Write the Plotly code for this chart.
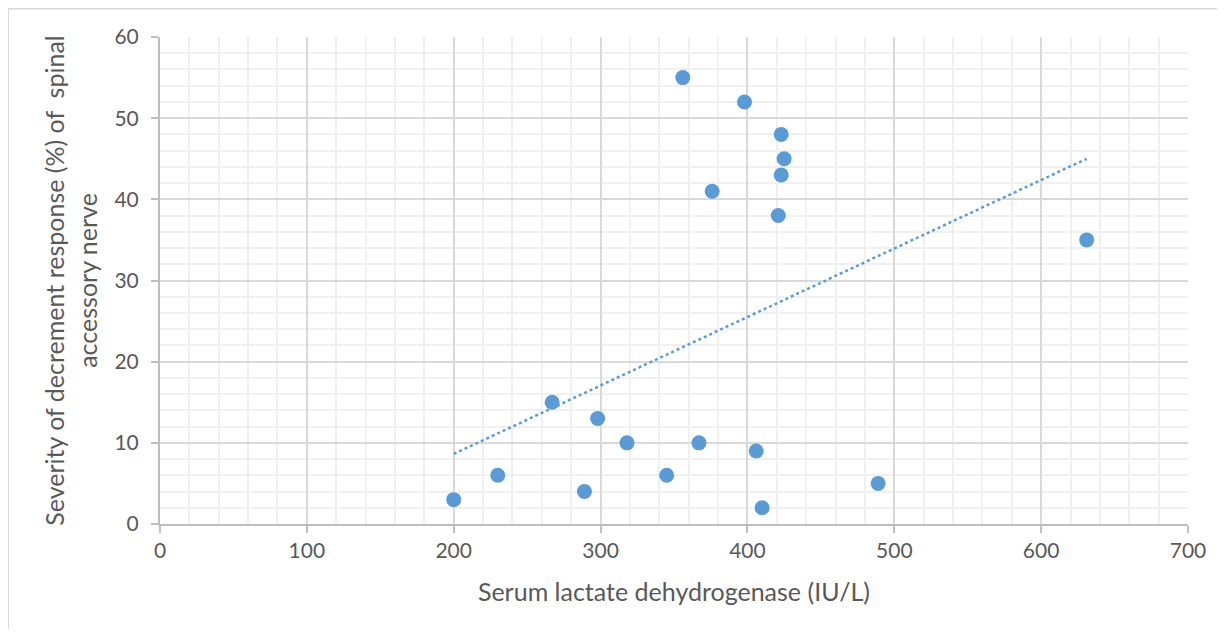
import numpy as np
import plotly.graph_objects as go

# Data
ldh = [200, 230, 267, 289, 298, 318, 345, 356, 367, 376, 398, 406, 410, 421, 423, 423, 425, 489, 631]
severity = [3, 6, 15, 4, 13, 10, 6, 55, 10, 41, 52, 9, 2, 38, 48, 43, 45, 5, 35]

x_ticks = [0, 100, 200, 300, 400, 500, 600, 700]
y_ticks = [0, 10, 20, 30, 40, 50, 60]

x_title = "Serum lactate dehydrogenase (IU/L)"
y_title = "Severity of decrement response (%) of  spinal<br>accessory nerve"

# Linear trendline (least squares)
slope, intercept = np.polyfit(ldh, severity, 1)
tx = np.array([min(ldh), max(ldh)])
ty = slope * tx + intercept

blue = "#5b9bd5"
font = "Lato"
txtcol = "#595959"

fig = go.Figure()
fig.add_trace(go.Scatter(x=ldh, y=severity, mode="markers",
                         marker=dict(color=blue, size=15, line=dict(width=0)),
                         showlegend=False))
fig.add_trace(go.Scatter(x=tx, y=ty, mode="lines",
                         line=dict(color=blue, width=2.5, dash="dot"),
                         showlegend=False))

# page has an 8px body margin
W, H = 1209, 621
ml, mr, mt, mb = 152, 29, 29, 105
pw, ph = W - ml - mr, H - mt - mb

fig.update_layout(
    width=W, height=H,
    margin=dict(l=ml, r=mr, t=mt, b=mb),
    paper_bgcolor="white", plot_bgcolor="white",
    font=dict(family=font, color=txtcol, size=21),
    xaxis=dict(range=[0, 700], tickvals=x_ticks, showgrid=True, gridcolor="#d9d9d9", gridwidth=1.5,
               minor=dict(dtick=20, showgrid=True, gridcolor="#f0f0f0", gridwidth=1.5),
               zeroline=False, showline=True, linecolor="#bfbfbf", linewidth=2,
               ticks="outside", ticklen=7, tickcolor="#bfbfbf", tickwidth=2,
               title=dict(text=x_title, font=dict(size=25, color=txtcol), standoff=22),
               tickfont=dict(size=21, color=txtcol)),
    yaxis=dict(range=[0, 60], tickvals=y_ticks, showgrid=True, gridcolor="#d9d9d9", gridwidth=1.5,
               minor=dict(dtick=2, showgrid=True, gridcolor="#f0f0f0", gridwidth=1.5),
               zeroline=False, showline=True, linecolor="#bfbfbf", linewidth=2,
               ticks="outside", ticklen=7, tickcolor="#bfbfbf", tickwidth=2,
               ticklabelstandoff=8,
               title=dict(text=y_title, font=dict(size=25, color=txtcol), standoff=10),
               tickfont=dict(size=21, color=txtcol)),
)

# outer chart border
fig.add_shape(type="rect", xref="paper", yref="paper",
              x0=(0 - ml) / pw, x1=(W + 20 - ml) / pw,
              y0=-(H + 20 - mt - ph) / ph, y1=1 + (mt - 0.5) / ph,
              line=dict(color="#d9d9d9", width=2), fillcolor="rgba(0,0,0,0)", layer="below")

fig.write_html("out.html")
